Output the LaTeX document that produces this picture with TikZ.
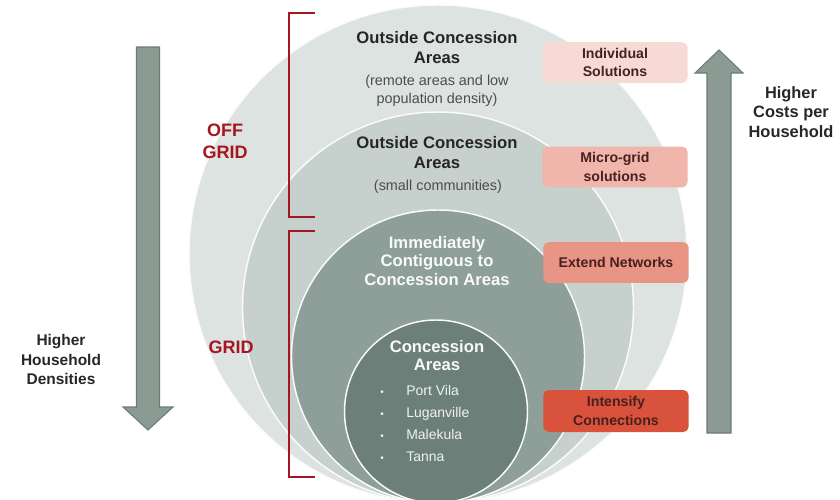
\documentclass[tikz,border=0pt]{standalone}
\usepackage{fontspec}
\setmainfont{Liberation Sans}

\definecolor{ringOuter}{RGB}{221,227,224}
\definecolor{ringMid}{RGB}{198,208,204}
\definecolor{ringNear}{RGB}{141,159,152}
\definecolor{ringCore}{RGB}{108,127,121}
\definecolor{bracketRed}{RGB}{166,22,32}
\definecolor{arrowFill}{RGB}{139,155,148}
\definecolor{arrowLine}{RGB}{108,124,118}
\definecolor{boxA}{RGB}{247,218,213}
\definecolor{boxB}{RGB}{240,182,172}
\definecolor{boxC}{RGB}{233,149,133}
\definecolor{boxD}{RGB}{217,82,60}
\definecolor{darkText}{RGB}{38,38,38}
\definecolor{greyText}{RGB}{77,77,77}

\begin{document}
\begin{tikzpicture}[x=0.75pt,y=0.75pt,yscale=-1,xscale=1,
	ring/.style={draw=white!85!ringOuter, line width=1.1},
	title/.style={font=\bfseries\fontsize{12.5}{15}\selectfont, align=center, inner sep=0.75pt},
	subtitle/.style={font=\fontsize{10.8}{13.5}\selectfont, align=center, inner sep=0.75pt, text=greyText},
	box/.style={rounded corners=4pt, minimum width=109pt, minimum height=30.5pt, inner sep=0pt, align=center, text=darkText!85!red, font=\bfseries\fontsize{10.6}{14}\selectfont},
	gridlabel/.style={font=\bfseries\fontsize{13.5}{16.5}\selectfont, align=center, text=bracketRed, inner sep=0.75pt},
	sidelabel/.style={font=\bfseries\fontsize{12}{14.6}\selectfont, align=center, text=darkText, inner sep=0.75pt},
	bracket/.style={draw=bracketRed, line width=1.5},
	bigarrow/.style={fill=arrowFill, draw=arrowLine, line width=0.8}
	]
	\useasboundingbox (0,0) rectangle (840,500);
	\clip (0,0) rectangle (840,500);

	%Shape: Circle
	\draw [ring, fill=ringOuter] (438,254) circle (249) ;
	%Shape: Circle
	\draw [ring, fill=ringMid] (438,307.5) circle (195.5) ;
	%Shape: Circle
	\draw [ring, fill=ringNear] (438,356.5) circle (146.5) ;
	%Shape: Circle
	\draw [ring, fill=ringCore] (436,411.5) circle (91.5) ;

	%Shape: Bracket
	\draw [bracket] (315,13) -- (289,13) -- (289,217) -- (315,217) ;
	%Shape: Bracket
	\draw [bracket] (315,231) -- (289,231) -- (289,477) -- (315,477) ;

	%Shape: Down Arrow
	\draw [bigarrow] (136.5,47) -- (159.5,47) -- (159.5,407) -- (173,407) -- (148,430) -- (123,407) -- (136.5,407) -- cycle ;
	%Shape: Up Arrow
	\draw [bigarrow] (707,433) -- (731,433) -- (731,73) -- (743,73) -- (719,50) -- (695,73) -- (707,73) -- cycle ;

	% Text Node
	\draw (437,47.5) node [title, text=darkText] (outerTitle) {Outside Concession\\Areas};
	% Text Node
	\draw (437,91) node [subtitle] (outerNote) {(remote areas and low\\population density)};
	% Text Node
	\draw (437,152.5) node [title, text=darkText] (midTitle) {Outside Concession\\Areas};
	% Text Node
	\draw (438,187) node [subtitle] (midNote) {(small communities)};
	% Text Node
	\draw (437,261) node [title, text=white!95!ringNear, font=\bfseries\fontsize{12.5}{14}\selectfont] (nearTitle) {Immediately\\Contiguous to\\Concession Areas};
	% Text Node
	\draw (437,356) node [title, text=white!95!ringCore, font=\bfseries\fontsize{12.5}{13.5}\selectfont] (coreTitle) {Concession\\Areas};
	% Text Node
	\draw (379,423.5) node [anchor=west, align=left, inner sep=0.75pt, text=white!90!ringCore, font=\fontsize{10.5}{16.7}\selectfont] (coreList)
		{\makebox[19.5pt][l]{\fontsize{7.5}{7.5}\selectfont\textbullet}Port Vila\\
		 \makebox[19.5pt][l]{\fontsize{7.5}{7.5}\selectfont\textbullet}Luganville\\
		 \makebox[19.5pt][l]{\fontsize{7.5}{7.5}\selectfont\textbullet}Malekula\\
		 \makebox[19.5pt][l]{\fontsize{7.5}{7.5}\selectfont\textbullet}Tanna};

	% Text Node
	\draw (615,62.5) node [box, fill=boxA] (individual) {Individual\\Solutions};
	% Text Node
	\draw (615,167) node [box, fill=boxB] (microgrid) {Micro-grid\\solutions};
	% Text Node
	\draw (616,262.5) node [box, fill=boxC] (extend) {Extend Networks};
	% Text Node
	\draw (616,411) node [box, fill=boxD, minimum height=31.5pt] (intensify) {Intensify\\Connections};

	% Text Node
	\draw (225,141) node [gridlabel] (offGrid) {OFF\\GRID};
	% Text Node
	\draw (231,347) node [gridlabel] (onGrid) {GRID};

	% Text Node
	\draw (61,359.5) node [sidelabel, font=\bfseries\fontsize{11.6}{14.6}\selectfont] (densities) {Higher\\Household\\Densities};
	% Text Node
	\draw (791,112) node [sidelabel, font=\bfseries\fontsize{12.3}{14.6}\selectfont] (costs) {Higher\\Costs per\\Household};

\end{tikzpicture}
\end{document}
